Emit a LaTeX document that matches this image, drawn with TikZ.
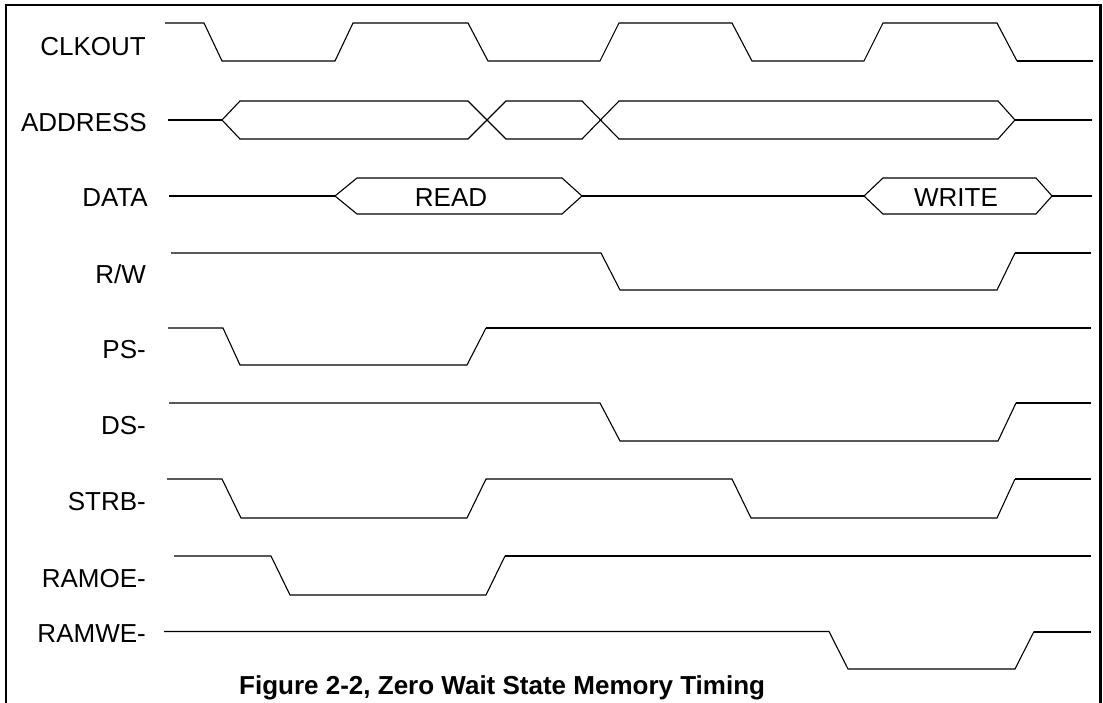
\documentclass[tikz,border=0pt]{standalone}
\usepackage{fontspec}
\setmainfont{Liberation Sans}
\begin{document}
\begin{tikzpicture}[x={(1pt,0)}, y={(0,-1pt)},
  sig/.style={line width=1.1pt},
  sigend/.style={line width=2pt},
  lbl/.style={font=\fontsize{26}{30}\selectfont, anchor=base east, inner sep=0pt},
  txt/.style={font=\fontsize{26}{30}\selectfont, anchor=base, inner sep=0pt},
  captxt/.style={font=\bfseries\fontsize{26}{30}\selectfont, anchor=base west, inner sep=0pt},
  frame/.style={line width=2.6pt}]
\useasboundingbox (0,0) rectangle (1103,703);
% frame
\draw[frame] (5.8,703) -- (5.8,5) -- (1100.5,5) -- (1100.5,703);
% labels
\node[lbl] (lclk)  at (146,55.8)  {CLKOUT};
\node[lbl] (laddr) at (147,131.3) {ADDRESS};
\node[lbl] (ldata) at (148,206.8) {DATA};
\node[lbl] (lrw)   at (146,283.3) {R/W};
\node[lbl] (lps)   at (146,358.3) {PS-};
\node[lbl] (lds)   at (146,434.3) {DS-};
\node[lbl] (lstrb) at (146,510.3) {STRB-};
\node[lbl] (loe)   at (146,587.3) {RAMOE-};
\node[lbl] (lwe)   at (146,642.3) {RAMWE-};
% CLKOUT
\draw[sig] (165,23) -- (204,23) -- (222,61) -- (335,61) -- (353,23) -- (468,23) -- (488,61)
  -- (600,61) -- (619,23) -- (732,23) -- (752,61) -- (864,61) -- (883,23) -- (997,23) -- (1017,61);
\draw[sigend] (1017,61) -- (1093,61);
% ADDRESS
\draw[sig] (168,120) -- (222,120);
\draw[sig] (222,120) -- (240,101) -- (468,101) -- (506,139) -- (582,139) -- (619,101) -- (998,101) -- (1015,120);
\draw[sig] (222,120) -- (240,139) -- (468,139) -- (506,101) -- (582,101) -- (619,139) -- (998,139) -- (1015,120);
\draw[sigend] (1015,120) -- (1092,120);
% DATA
\draw[sig] (169,196) -- (335,196);
\draw[sig] (335,196) -- (357,178) -- (562,178) -- (582,196);
\draw[sig] (335,196) -- (357,214) -- (562,214) -- (582,196);
\draw[sig] (582,196) -- (864,196);
\draw[sig] (864,196) -- (883,178) -- (1036,178) -- (1052,196);
\draw[sig] (864,196) -- (883,214) -- (1036,214) -- (1052,196);
\draw[sigend] (1052,196) -- (1092,196);
\node[txt] (tread)  at (451,206.8) {READ};
\node[txt] (twrite) at (956,206.8) {WRITE};
% R/W
\draw[sig] (171,253) -- (601,253) -- (620,290) -- (997,290) -- (1015,253);
\draw[sigend] (1015,253) -- (1091,253);
% PS-
\draw[sig] (168,328) -- (223,328) -- (240,365) -- (467,365) -- (486,328);
\draw[sigend] (486,328) -- (1091,328);
% DS-
\draw[sig] (169,403) -- (600,403) -- (620,441) -- (998,441) -- (1016,403);
\draw[sigend] (1016,403) -- (1091,403);
% STRB-
\draw[sig] (167,479) -- (222,479) -- (241,518) -- (467,518) -- (486,479) -- (732,479) -- (751,518)
  -- (997,518) -- (1015,479);
\draw[sigend] (1015,479) -- (1091,479);
% RAMOE-
\draw[sig] (174,556) -- (271,556) -- (290,595) -- (486,595) -- (505,556);
\draw[sigend] (505,556) -- (1091,556);
% RAMWE-
\draw[sig] (164,631.5) -- (829,631.5) -- (848,669) -- (1015,669) -- (1034,631.5);
\draw[sigend] (1034,631.5) -- (1091,631.5);
% caption
\node[captxt] (caption) at (239,694) {Figure 2-2, Zero Wait State Memory Timing};
\end{tikzpicture}
\end{document}
